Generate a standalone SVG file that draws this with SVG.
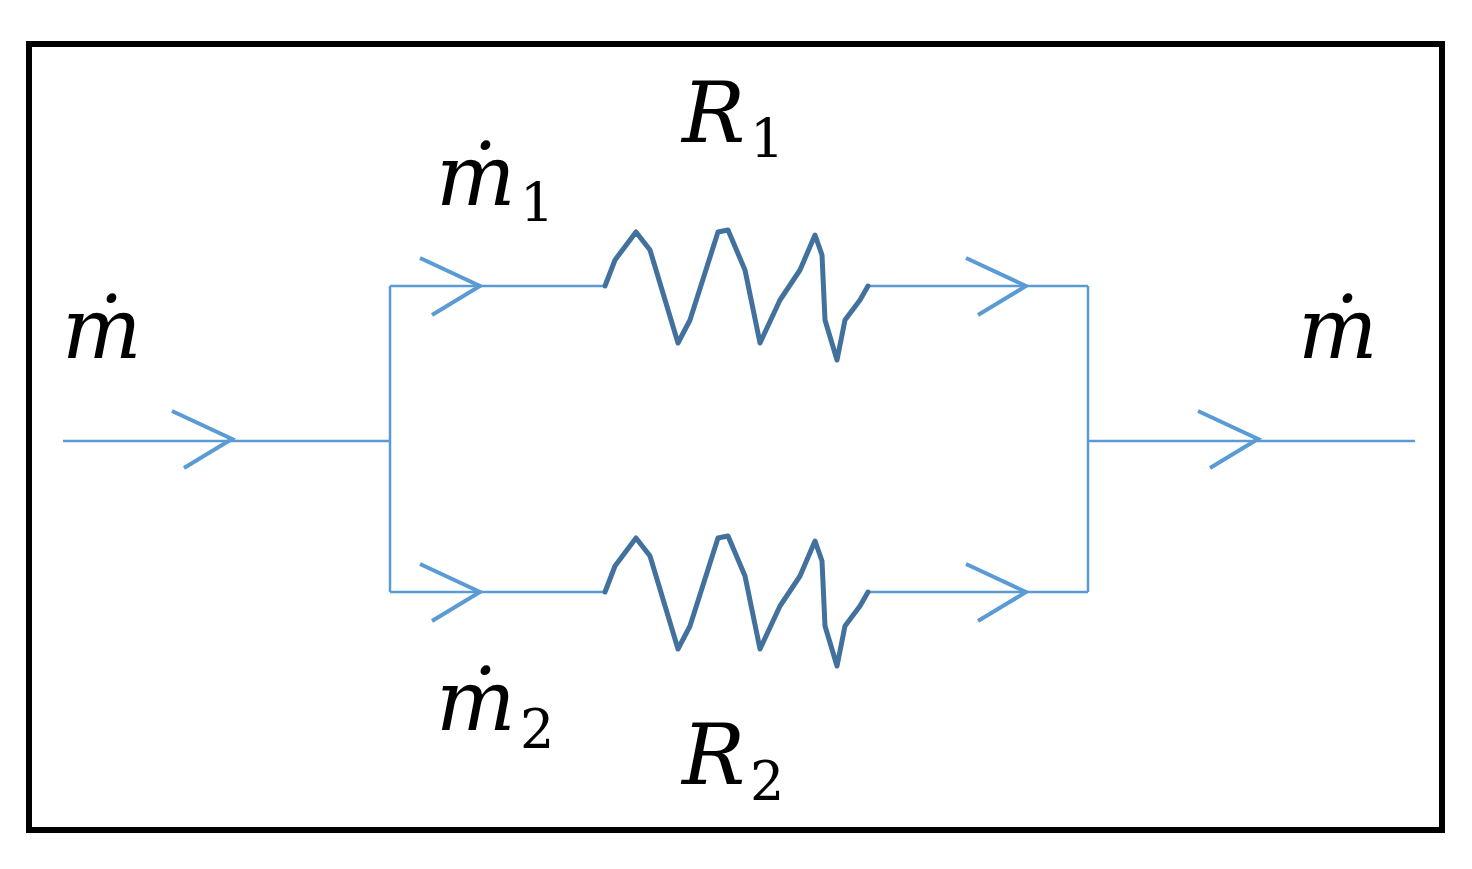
<svg xmlns="http://www.w3.org/2000/svg" width="1472" height="869" viewBox="0 0 1472 869">
<style>
.w{fill:none;stroke:#5b9bd5;stroke-width:2.5}
.a{fill:none;stroke:#5b9bd5;stroke-width:4;stroke-linejoin:miter}
.r{fill:none;stroke:#41719c;stroke-width:5;stroke-linejoin:round;stroke-linecap:round}
.t{font-family:"DejaVu Serif",serif;font-style:italic;font-size:84px;fill:#000}
.s{font-family:"DejaVu Serif",serif;font-size:54px;fill:#000}
</style>
<defs>
<path id="res" d="M605,286 L615,260 L636,232 L650,250 L678,343 L690,320 L718,232 L728,230 L745,270 L760,343 L780,300 L800,270 L815,235 L822,255 L825,320 L837,360 L845,320 L860,300 L868,286"/>
<path id="chev" d="M-60,-28 L0,0 L-48,29"/>
</defs>
<rect x="29" y="44" width="1413" height="786" fill="#fff" stroke="#000" stroke-width="6"/>
<g id="connectors">
<path class="w" d="M63,441 H390 M390,286 V592 M390,286 H605 M390,592 H605 M868,286 H1088 M868,592 H1088 M1088,286 V592 M1088,441 H1415"/>
<use href="#chev" class="a" x="232" y="439"/>
<use href="#chev" class="a" x="480" y="286"/>
<use href="#chev" class="a" x="480" y="592"/>
<use href="#chev" class="a" x="1026" y="286"/>
<use href="#chev" class="a" x="1026" y="592"/>
<use href="#chev" class="a" x="1258" y="439"/>
</g>
<g id="R1"><use href="#res" class="r"/><text class="t" x="682" y="142">R</text><text class="s" x="750" y="158">1</text></g>
<g id="R2"><use href="#res" class="r" y="306"/><text class="t" x="682" y="784">R</text><text class="s" x="750" y="800">2</text></g>
<g id="m_in"><text class="t" x="62" y="358">ṁ</text></g>
<g id="m_out"><text class="t" x="1298" y="358">ṁ</text></g>
<g id="m1"><text class="t" x="436" y="205">ṁ</text><text class="s" x="520" y="222">1</text></g>
<g id="m2"><text class="t" x="436" y="730">ṁ</text><text class="s" x="520" y="748">2</text></g>
</svg>
